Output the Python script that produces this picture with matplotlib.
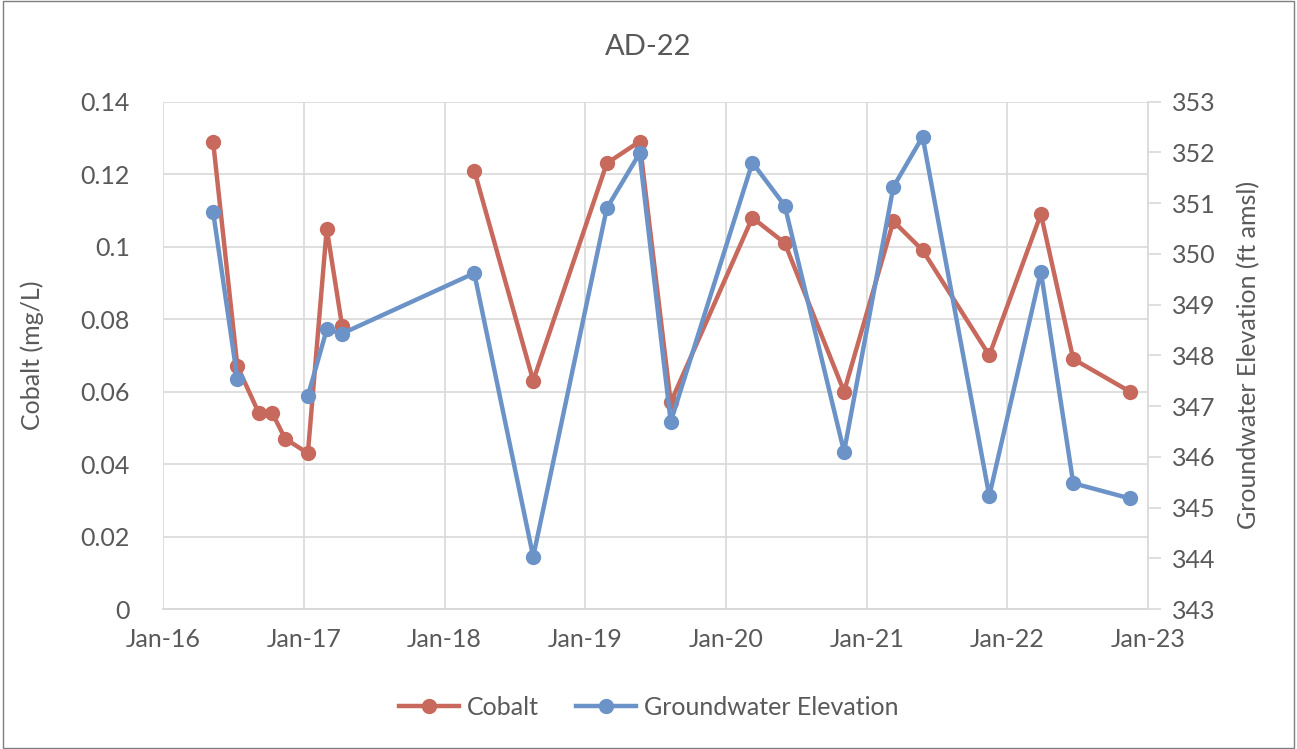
import matplotlib
matplotlib.use("Agg")
import matplotlib.pyplot as plt
import matplotlib.dates as mdates
from matplotlib.patches import Rectangle
import numpy as np
import pandas as pd

# sample dates and values (None = empty cell -> gap)
dates = ["2016-05-10", "2016-07-12", "2016-09-06", "2016-10-11",
         "2016-11-13", "2017-01-11", "2017-03-01", "2017-04-10",
         "2017-10-01", "2018-03-19", "2018-08-19", "2019-02-26",
         "2019-05-22", "2019-08-11", "2020-03-10", "2020-06-02",
         "2020-11-03", "2021-03-11", "2021-05-26", "2021-11-15",
         "2022-03-29", "2022-06-21", "2022-11-15"]
cobalt = [0.129, 0.067, 0.054, 0.054, 0.047, 0.043, 0.105, 0.078,
          None, 0.121, 0.063, 0.123, 0.129, 0.057, 0.108, 0.101,
          0.060, 0.107, 0.099, 0.070, 0.109, 0.069, 0.060]
gw_elev = [350.83, 347.54, None, None, None, 347.20, 348.51, 348.43,
           "skip", 349.62, 344.03, 350.90, 351.98, 346.69, 351.80,
           350.95, 346.10, 351.32, 352.31, 345.23, 349.65, 345.48,
           345.18]

year_ticks = ["2016", "2017", "2018", "2019", "2020", "2021", "2022", "2023"]

RED = "#C8695D"
BLUE = "#6C93C8"
TXT = "#595959"
GRID = "#D9D9D9"

plt.rcParams["font.family"] = ["Lato", "DejaVu Sans"]

x = pd.to_datetime(dates)
co = np.array([np.nan if v is None else v for v in cobalt], dtype=float)
# "skip" rows are not in this series at all, so the line runs straight through
keep = np.array([v != "skip" for v in gw_elev])
gw = np.array([np.nan if v is None else v for v, k in zip(gw_elev, keep) if k],
              dtype=float)

fig = plt.figure(figsize=(12.97, 7.49), dpi=100)
ax = fig.add_axes([0.1257, 0.1869, 0.7594, 0.6773])
ax2 = ax.twinx()

ax.plot(x, co, "-o", color=RED, linewidth=3.2, markersize=10, label="Cobalt")
ax2.plot(x[keep], gw, "-o", color=BLUE, linewidth=3.2, markersize=10,
         label="Groundwater Elevation")

ticks = pd.to_datetime([y + "-01-01" for y in year_ticks])
ax.set_xlim(ticks[0], ticks[-1])
ax.set_xticks(ticks)
ax.xaxis.set_major_formatter(mdates.DateFormatter("%b-%y"))

ax.set_ylim(0, 0.14)
ax.set_yticks([0, 0.02, 0.04, 0.06, 0.08, 0.1, 0.12, 0.14])
ax.set_yticklabels(["0", "0.02", "0.04", "0.06", "0.08", "0.1", "0.12", "0.14"])
ax2.set_ylim(343, 353)
ax2.set_yticks(range(343, 354))

ax.grid(True, color=GRID, linewidth=1.2)
ax.set_axisbelow(True)
for a in (ax, ax2):
    for s in ("top", "left", "right"):
        a.spines[s].set_visible(False)
    a.spines["bottom"].set_color(GRID)
    a.spines["bottom"].set_linewidth(1.2)
ax2.spines["right"].set_visible(True)
ax2.spines["right"].set_color(GRID)
ax2.spines["right"].set_linewidth(1.2)

ax.tick_params(axis="both", length=0, labelsize=18, labelcolor=TXT)
ax.tick_params(axis="x", pad=14)
ax.tick_params(axis="y", pad=24)
ax2.tick_params(axis="y", length=9, color=GRID, width=1.2,
                labelsize=18, labelcolor=TXT, pad=8)

ax.set_ylabel("Cobalt (mg/L)", fontsize=18, color=TXT, labelpad=26)
ax2.set_ylabel("Groundwater Elevation (ft amsl)", fontsize=18, color=TXT,
               labelpad=16)
fig.text(0.5, 0.937, "AD-22", ha="center", va="center", fontsize=21, color=TXT)

h1, l1 = ax.get_legend_handles_labels()
h2, l2 = ax2.get_legend_handles_labels()
fig.legend(h1 + h2, l1 + l2, loc="center", bbox_to_anchor=(0.5, 0.056),
           ncol=2, frameon=False, fontsize=18, labelcolor=TXT,
           handlelength=2.4, columnspacing=1.5, handletextpad=0.3)

fig.patches.append(Rectangle((0.002, 0.002), 0.996, 0.996,
                             transform=fig.transFigure, fill=False,
                             edgecolor="#7F7F7F", linewidth=1))

fig.savefig("out.png", dpi=100)
